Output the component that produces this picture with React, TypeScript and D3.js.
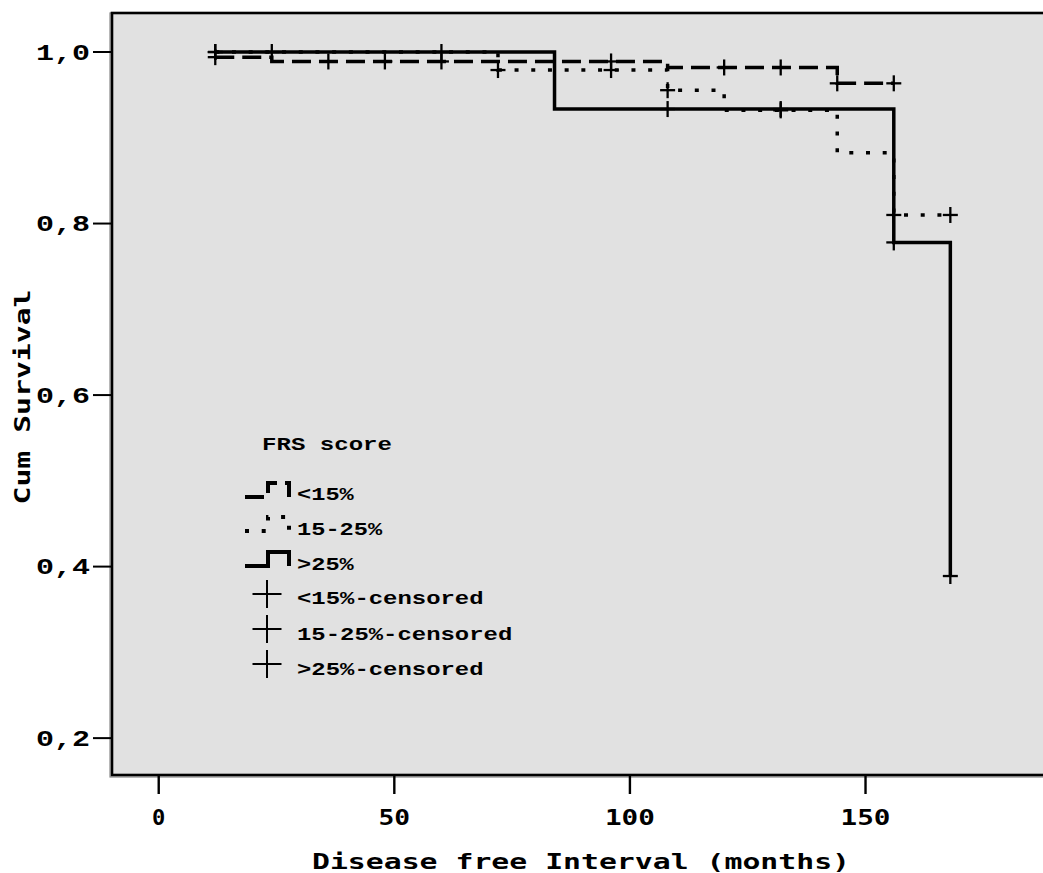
import React from 'react';
import * as d3 from 'd3';

// ---- data ----
const xTicks = [0, 50, 100, 150];
const yTicks = [0.2, 0.4, 0.6, 0.8, 1.0];
const yTickLabels = ['0,2', '0,4', '0,6', '0,8', '1,0'];

const lt15Times = [12, 24, 108, 144, 156];
const lt15Surv = [0.994, 0.989, 0.982, 0.9635, 0.9635];
const midTimes = [12, 72, 108, 120, 144, 156, 168];
const midSurv = [1.0, 0.979, 0.9555, 0.932, 0.8825, 0.81, 0.81];
const gt25Times = [12, 84, 156, 168];
const gt25Surv = [1.0, 0.9335, 0.778, 0.389];

const lt15CensT = [12, 36, 48, 60, 96, 120, 132, 144, 156];
const lt15CensS = [0.994, 0.989, 0.989, 0.989, 0.989, 0.982, 0.982, 0.9635, 0.9635];
const midCensT = [12, 72, 96, 108, 132, 156, 168];
const midCensS = [1.0, 0.979, 0.979, 0.9555, 0.932, 0.81, 0.81];
const gt25CensT = [12, 24, 60, 108, 132, 156, 168];
const gt25CensS = [1.0, 1.0, 1.0, 0.9335, 0.9335, 0.778, 0.389];

const legendTitle = 'FRS score';
const groupLabels = ['<15%', '15-25%', '>25%'];
const censoredLabels = ['<15%-censored', '15-25%-censored', '>25%-censored'];
const xTitle = 'Disease free Interval (months)';
const yTitle = 'Cum Survival';

// ---- layout ----
const W = 1043;
const H = 873;
const left = 112;
const top = 13;
const bottom = 775;
const right = 1054;

const x = d3.scaleLinear().domain([-10, 190]).range([left - 0.4, right]);
const y = d3.scaleLinear().domain([0.157, 1.0455]).range([bottom, top]);

const DASH = '19 8';
const DOT = '4 12.7';

const stepLine = d3
  .line<[number, number]>()
  .x((d) => x(d[0]))
  .y((d) => y(d[1]))
  .curve(d3.curveStepAfter);

const zip = (a: number[], b: number[]) => a.map((t, i) => [t, b[i]] as [number, number]);

const series = [
  { times: midTimes, surv: midSurv, cT: midCensT, cS: midCensS, dash: DOT },
  { times: lt15Times, surv: lt15Surv, cT: lt15CensT, cS: lt15CensS, dash: DASH },
  { times: gt25Times, surv: gt25Surv, cT: gt25CensT, cS: gt25CensS, dash: undefined as string | undefined },
];

const monoB = "'Liberation Mono', 'DejaVu Sans Mono', monospace";
const monoD = "'DejaVu Sans Mono', monospace";

function Cross({ cx, cy, hw, hh, sw }: { cx: number; cy: number; hw: number; hh: number; sw: number }) {
  return (
    <g stroke="#000" strokeWidth={sw}>
      <line x1={cx - hw} x2={cx + hw} y1={cy} y2={cy} />
      <line x1={cx} x2={cx} y1={cy - hh} y2={cy + hh} />
    </g>
  );
}

export default function App() {
  const legendSymbolY = [497, 531, 566];
  const legendTextY = [500, 535, 570];
  const legendCrossY = [594, 629, 664];
  const legendCensTextY = [604, 640, 675];
  const textLen = (s: string, per: number) => s.length * per;

  return (
    <svg
      width={W}
      height={H}
      style={{ position: 'absolute', left: 0, top: 0, background: '#fff' }}
    >
      <defs>
        <clipPath id="plotclip">
          <rect x={left} y={top} width={right - left} height={bottom - top} />
        </clipPath>
      </defs>
      {/* frame shadow */}
      <rect x={left - 2} y={top} width={right - left + 2} height={bottom - top + 2} fill="none" stroke="#888" strokeWidth={1.2} />
      <rect x={left} y={top} width={right - left} height={bottom - top} fill="#e1e1e1" stroke="#000" strokeWidth={2.6} />

      {/* y axis ticks */}
      {yTicks.map((v, i) => (
        <g key={'yt' + i}>
          <line x1={93} x2={left} y1={y(v)} y2={y(v)} stroke="#000" strokeWidth={2} />
          <text
            x={90}
            y={y(v) + 7.5}
            textAnchor="end"
            fontFamily={monoB}
            fontWeight="bold"
            fontSize={22}
            textLength={54}
            lengthAdjust="spacingAndGlyphs"
          >
            {yTickLabels[i]}
          </text>
        </g>
      ))}

      {/* x axis ticks */}
      {xTicks.map((v, i) => {
        const s = String(v);
        const tl = s.length * 18.3 - 5;
        return (
          <g key={'xt' + i}>
            <line x1={x(v)} x2={x(v)} y1={bottom} y2={794} stroke="#000" strokeWidth={2.4} />
            <text
              x={x(v) - tl / 2}
              y={825}
              fontFamily={monoD}
              fontWeight="bold"
              fontSize={21}
              textLength={tl}
              lengthAdjust="spacingAndGlyphs"
            >
              {s}
            </text>
          </g>
        );
      })}

      {/* axis titles */}
      <text
        x={312}
        y={869}
        fontFamily={monoD}
        fontWeight="bold"
        fontSize={22}
        textLength={538}
        lengthAdjust="spacingAndGlyphs"
      >
        {xTitle}
      </text>
      <text
        transform={`translate(30, ${397}) rotate(-90)`}
        x={-107.5}
        y={0}
        fontFamily={monoD}
        fontWeight="bold"
        fontSize={21}
        textLength={215}
        lengthAdjust="spacingAndGlyphs"
      >
        {yTitle}
      </text>

      {/* curves */}
      <g clipPath="url(#plotclip)">
        {series.map((s, i) => (
          <path
            key={'ln' + i}
            d={stepLine(zip(s.times, s.surv)) || ''}
            fill="none"
            stroke="#000"
            strokeWidth={3.5}
            strokeDasharray={s.dash}
          />
        ))}
        {series.map((s, i) =>
          s.cT.map((t, j) => (
            <Cross key={`c${i}-${j}`} cx={x(t)} cy={y(s.cS[j])} hw={7.5} hh={8} sw={2.3} />
          ))
        )}
      </g>

      {/* legend */}
      <text x={262} y={450} fontFamily={monoB} fontWeight="bold" fontSize={19} textLength={130} lengthAdjust="spacingAndGlyphs">
        {legendTitle}
      </text>
      {groupLabels.map((lab, i) => {
        const yb = legendSymbolY[i];
        const dash = i === 0 ? DASH : i === 1 ? DOT : undefined;
        return (
          <g key={'lg' + i}>
            <path
              d={`M245,${yb} H268 V${yb - 14} H289 V${yb}`}
              fill="none"
              stroke="#000"
              strokeWidth={4}
              strokeDasharray={dash}
            />
            <text
              x={297}
              y={legendTextY[i]}
              fontFamily={monoB}
              fontWeight="bold"
              fontSize={19}
              textLength={textLen(lab, 14.2)}
              lengthAdjust="spacingAndGlyphs"
            >
              {lab}
            </text>
          </g>
        );
      })}
      {censoredLabels.map((lab, i) => (
        <g key={'lc' + i}>
          <Cross cx={267} cy={legendCrossY[i]} hw={14.5} hh={14} sw={2} />
          <text
            x={297}
            y={legendCensTextY[i]}
            fontFamily={monoB}
            fontWeight="bold"
            fontSize={19}
            textLength={textLen(lab, 14.35)}
            lengthAdjust="spacingAndGlyphs"
          >
            {lab}
          </text>
        </g>
      ))}
    </svg>
  );
}
